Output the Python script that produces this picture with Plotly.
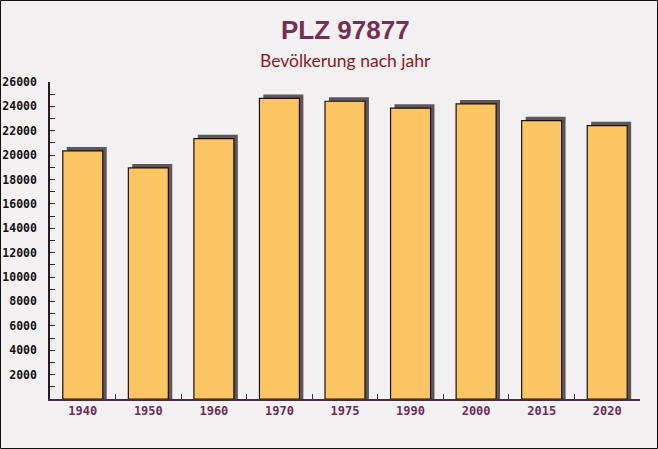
import plotly.graph_objects as go

years = ["1940", "1950", "1960", "1970", "1975", "1990", "2000", "2015", "2020"]
population = [20350, 18950, 21350, 24650, 24420, 23850, 24200, 22830, 22420]
y_ticks = list(range(2000, 26001, 2000))
y_tick_text = [str(v) for v in y_ticks]

W, H = 658, 449
ml, mr, mt, mb = 50, 18, 82, 50
pw, ph = W - ml - mr, H - mt - mb

bar_w = 0.61
shadow_lift = 320  # vertical depth of the 3D shadow, in data units (~4px)
fig = go.Figure()
# shadow bars (3D effect)
fig.add_trace(go.Bar(
    x=years, y=[v + shadow_lift for v in population], width=bar_w, offset=-bar_w / 2 + 0.06,
    marker=dict(color="#5e5659", line=dict(width=0)), hoverinfo="skip", showlegend=False,
))
fig.add_trace(go.Bar(
    x=years, y=population, width=bar_w,
    marker=dict(color="#fbc563", line=dict(color="#1a1010", width=1.2)),
    showlegend=False,
))

fig.update_layout(
    width=W, height=H, barmode="overlay",
    margin=dict(l=ml, r=mr, t=mt, b=mb),
    paper_bgcolor="#f3f0f2", plot_bgcolor="rgba(0,0,0,0)",
    xaxis=dict(
        type="category", showgrid=False, zeroline=False, automargin=False,
        showline=True, linecolor="#4a2a3e", linewidth=1.5,
        ticks="inside", tickson="boundaries", ticklen=5, tickcolor="#4a2a3e",
        tickfont=dict(family="DejaVu Sans Mono", size=12, color="#6e2d55", weight="bold"),
        range=[-0.5, 8.5],
    ),
    yaxis=dict(
        range=[0, 26000], tickvals=y_ticks, ticktext=y_tick_text, automargin=False,
        showgrid=False, zeroline=False,
        showline=True, linecolor="#2a1a22", linewidth=1.5,
        ticks="inside", ticklen=5, tickcolor="#2a1a22", ticklabelstandoff=9,
        minor=dict(ticks="inside", ticklen=5, dtick=1000, tickcolor="#2a1a22"),
        tickfont=dict(family="DejaVu Sans Mono", size=11.5, color="#111111", weight="bold"),
    ),
    annotations=[
        dict(text="<b>PLZ 97877</b>", x=0.5, xref="paper", y=1 + (mt - 30) / ph, yref="paper",
             showarrow=False, xanchor="center", yanchor="middle",
             font=dict(family="Liberation Sans", size=26, color="#7a2d52")),
        dict(text="Bevölkerung nach jahr", x=0.5, xref="paper", y=1 + (mt - 60) / ph, yref="paper",
             showarrow=False, xanchor="center", yanchor="middle",
             font=dict(family="Lato", size=17.5, color="#8b1a1a")),
    ],
    shapes=[
        dict(type="rect", xref="paper", yref="paper",
             x0=(-ml + 0.5) / pw, x1=1 + (mr - 0.5) / pw,
             y0=(-mb + 0.5) / ph, y1=1 + (mt - 0.5) / ph,
             line=dict(color="#111111", width=1), layer="below"),
    ],
)

fig.write_html("out.html")
